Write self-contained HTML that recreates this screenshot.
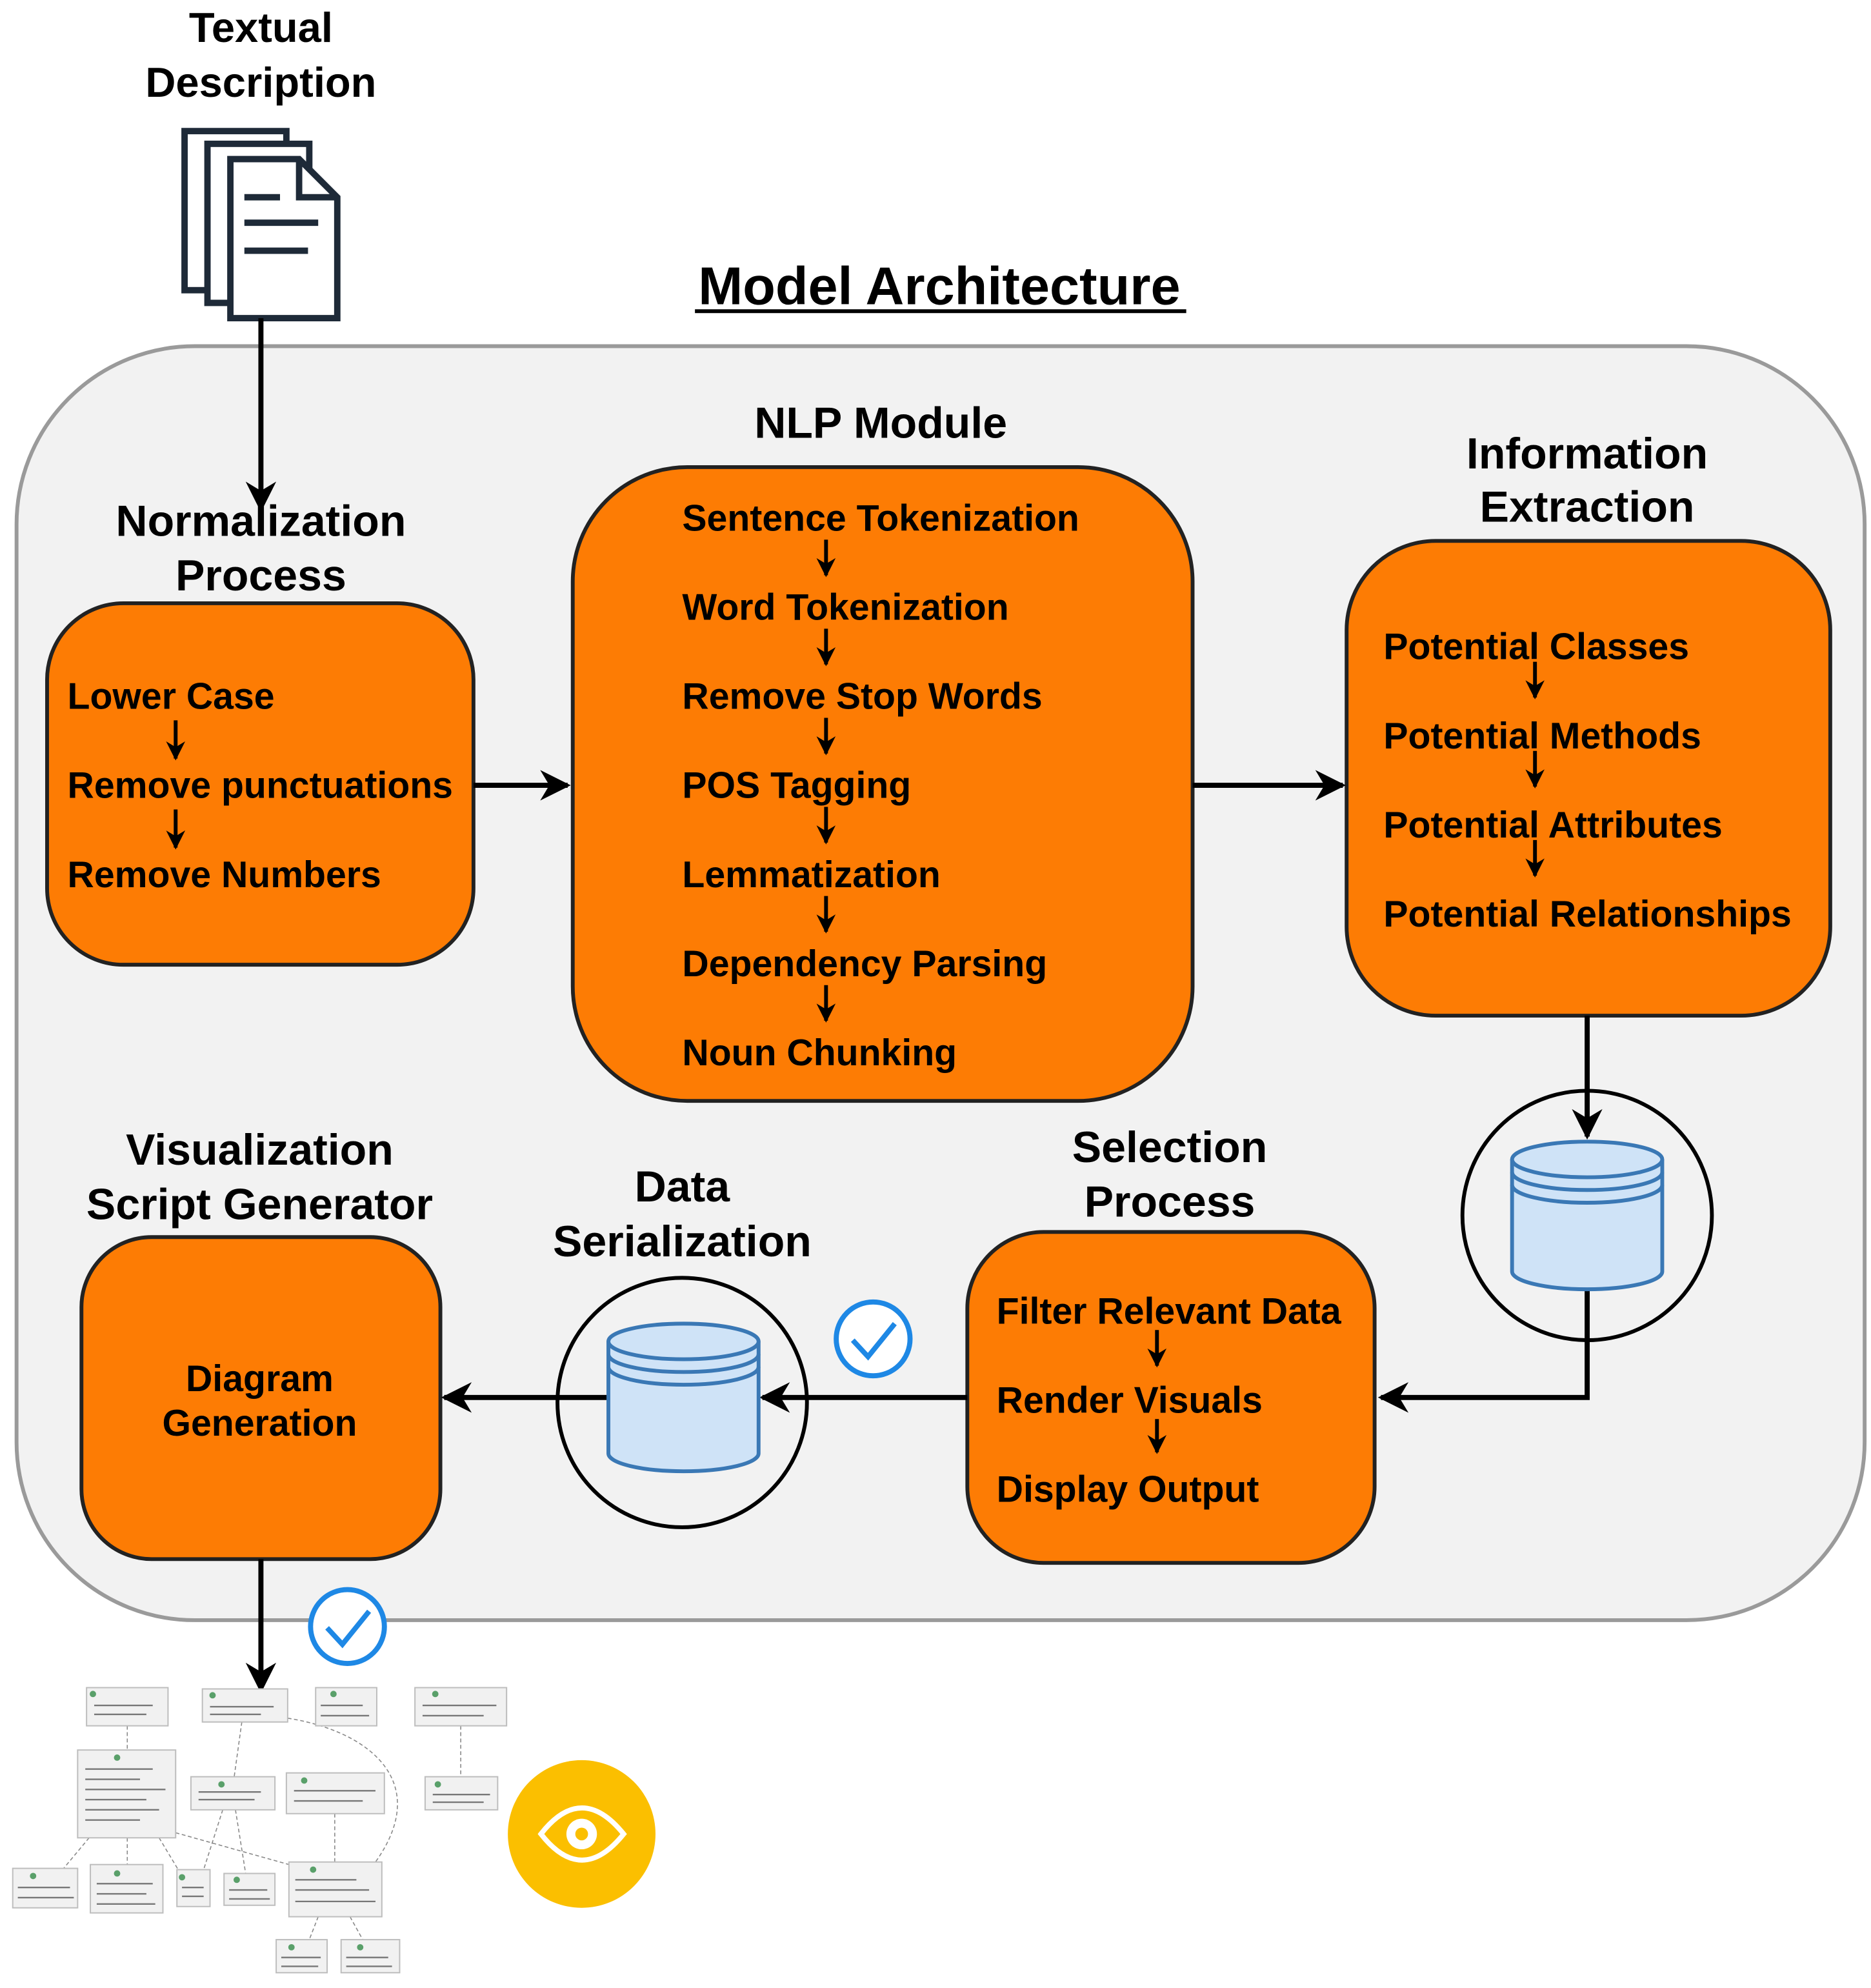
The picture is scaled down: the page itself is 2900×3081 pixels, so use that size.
<!DOCTYPE html>
<html><head><meta charset="utf-8"><style>html,body{margin:0;padding:0;background:#fff}svg{display:block}</style></head>
<body>
<svg width="2900" height="3081" viewBox="0 0 1470 1562" preserveAspectRatio="none" xmlns="http://www.w3.org/2000/svg" font-family="Liberation Sans, Arial, sans-serif" font-weight="bold">
<defs>
<marker id="a" viewBox="0 0 10 10" refX="9" refY="5" markerWidth="5" markerHeight="5" orient="auto"><path d="M0,0 L10,5 L0,10 L3,5 z" fill="#000"/></marker>
<marker id="s" viewBox="0 0 10 10" refX="9" refY="5" markerWidth="6" markerHeight="6" orient="auto"><path d="M0,0 L10,5 L0,10 L3,5 z" fill="#000"/></marker>
<g id="cyl">
<path d="M0,14 L0,102 A59,14 0 0 0 118,102 L118,14" fill="#cfe3f7" stroke="#3a78b5" stroke-width="3"/>
<ellipse cx="59" cy="14" rx="59" ry="14" fill="#cfe3f7" stroke="#3a78b5" stroke-width="3"/>
<path d="M0,24 A59,14 0 0 0 118,24 M0,34 A59,14 0 0 0 118,34" fill="none" stroke="#3a78b5" stroke-width="3"/>
</g>
</defs>
<text x="205" y="33" font-size="33" text-anchor="middle">Textual</text>
<text x="205" y="76" font-size="33" text-anchor="middle">Description</text>
<g fill="#fff" stroke="#1e2a38" stroke-width="5">
<rect x="145" y="103" width="80" height="125"/>
<rect x="163" y="113" width="80" height="125"/>
<path d="M181,125 L235,125 L265,155 L265,250 L181,250 Z"/>
<path d="M235,125 L235,155 L265,155" fill="none"/>
<path d="M192,155 L220,155 M192,175 L250,175 M192,197 L242,197" fill="none"/>
</g>
<text x="738" y="239" font-size="42" text-anchor="middle">Model Architecture</text>
<rect x="546" y="243" width="386" height="3" fill="#000"/>
<rect x="13" y="272" width="1452" height="1001" rx="140" fill="#f2f2f2" stroke="#9a9a9a" stroke-width="3"/>
<line x1="205" y1="250" x2="205" y2="400" stroke="#000" stroke-width="4" marker-end="url(#s)"/>
<g font-size="34.5" text-anchor="middle">
<text x="205" y="421">Normalization</text><text x="205" y="464">Process</text>
<text x="692" y="344">NLP Module</text>
<text x="1247" y="368">Information</text><text x="1247" y="410">Extraction</text>
<text x="919" y="913">Selection</text><text x="919" y="956">Process</text>
<text x="536" y="944">Data</text><text x="536" y="987">Serialization</text>
<text x="204" y="915">Visualization</text><text x="204" y="958">Script Generator</text>
</g>
<g fill="#fd7c04" stroke="#222" stroke-width="3">
<rect x="37" y="474" width="335" height="284" rx="60"/>
<rect x="450" y="367" width="487" height="498" rx="90"/>
<rect x="1058" y="425" width="380" height="373" rx="70"/>
<rect x="760" y="968" width="320" height="260" rx="60"/>
<rect x="64" y="972" width="282" height="253" rx="55"/>
</g>
<g font-size="29">
<text x="53" y="557">Lower Case</text><text x="53" y="627">Remove punctuations</text><text x="53" y="697">Remove Numbers</text>
<text x="536" y="417">Sentence Tokenization</text><text x="536" y="487">Word Tokenization</text><text x="536" y="557">Remove Stop Words</text><text x="536" y="627">POS Tagging</text><text x="536" y="697">Lemmatization</text><text x="536" y="767">Dependency Parsing</text><text x="536" y="837">Noun Chunking</text>
<text x="1087" y="518">Potential Classes</text><text x="1087" y="588">Potential Methods</text><text x="1087" y="658">Potential Attributes</text><text x="1087" y="728">Potential Relationships</text>
<text x="783" y="1040">Filter Relevant Data</text><text x="783" y="1110">Render Visuals</text><text x="783" y="1180">Display Output</text>
<text x="204" y="1093" text-anchor="middle">Diagram</text><text x="204" y="1128" text-anchor="middle">Generation</text>
</g>
<g stroke="#000" stroke-width="3" marker-end="url(#a)">
<line x1="138" y1="566" x2="138" y2="596"/><line x1="138" y1="636" x2="138" y2="666"/>
<line x1="649" y1="424" x2="649" y2="452"/><line x1="649" y1="494" x2="649" y2="522"/><line x1="649" y1="564" x2="649" y2="592"/><line x1="649" y1="634" x2="649" y2="662"/><line x1="649" y1="704" x2="649" y2="732"/><line x1="649" y1="774" x2="649" y2="802"/>
<line x1="1206" y1="520" x2="1206" y2="548"/><line x1="1206" y1="590" x2="1206" y2="618"/><line x1="1206" y1="660" x2="1206" y2="688"/>
<line x1="909" y1="1045" x2="909" y2="1073"/><line x1="909" y1="1115" x2="909" y2="1141"/>
</g>
<g stroke="#000" stroke-width="4" fill="none" marker-end="url(#s)">
<line x1="372" y1="617" x2="446" y2="617"/>
<line x1="937" y1="617" x2="1055" y2="617"/>
<line x1="1247" y1="798" x2="1247" y2="893"/>
<polyline points="1247,1013 1247,1098 1085,1098"/>
<line x1="760" y1="1098" x2="599" y2="1098"/>
<line x1="478" y1="1098" x2="349" y2="1098"/>
<line x1="205" y1="1225" x2="205" y2="1328"/>
</g>
<circle cx="1247" cy="955" r="98" fill="none" stroke="#000" stroke-width="3"/>
<use href="#cyl" x="1188" y="897"/>
<circle cx="536" cy="1102" r="98" fill="none" stroke="#000" stroke-width="3"/>
<use href="#cyl" x="478" y="1040"/>
<g fill="#fff" stroke="#1e88e5" stroke-width="4">
<circle cx="686" cy="1052" r="29"/><path d="M670,1053 L682,1066 L703,1040" fill="none"/>
<circle cx="273" cy="1278" r="29"/><path d="M257,1279 L269,1292 L290,1266" fill="none"/>
</g>
<g stroke="#888" stroke-width="0.8" fill="none" stroke-dasharray="3,2">
<line x1="100" y1="1356" x2="100" y2="1375"/><line x1="190" y1="1353" x2="184" y2="1396"/>
<path d="M226,1350 C290,1360 340,1400 295,1463"/><line x1="362" y1="1356" x2="362" y2="1396"/>
<line x1="263" y1="1425" x2="263" y2="1463"/><line x1="138" y1="1440" x2="227" y2="1465"/>
<line x1="70" y1="1444" x2="50" y2="1468"/><line x1="100" y1="1444" x2="100" y2="1465"/><line x1="125" y1="1444" x2="140" y2="1469"/>
<line x1="175" y1="1422" x2="160" y2="1469"/><line x1="185" y1="1422" x2="193" y2="1472"/>
<line x1="250" y1="1506" x2="243" y2="1524"/><line x1="275" y1="1506" x2="285" y2="1524"/>
</g>
<g fill="#f1f1f1" stroke="#bdbdbd" stroke-width="1">
<rect x="68" y="1326" width="64" height="30"/><rect x="159" y="1327" width="67" height="26"/><rect x="248" y="1326" width="48" height="30"/><rect x="326" y="1326" width="72" height="30"/>
<rect x="61" y="1375" width="77" height="69"/><rect x="150" y="1396" width="66" height="26"/><rect x="225" y="1393" width="77" height="32"/><rect x="334" y="1396" width="57" height="26"/>
<rect x="10" y="1468" width="51" height="31"/><rect x="71" y="1465" width="57" height="38"/><rect x="139" y="1469" width="26" height="29"/><rect x="176" y="1472" width="40" height="25"/><rect x="227" y="1463" width="73" height="43"/>
<rect x="217" y="1524" width="40" height="26"/><rect x="268" y="1524" width="46" height="26"/>
</g>
<g stroke="#777" stroke-width="1.2">
<path d="M74,1340 H120 M74,1347 H115 M165,1341 H215 M165,1347 H205 M252,1340 H285 M252,1348 H290 M332,1340 H390 M332,1348 H380 M67,1390 H120 M67,1398 H110 M67,1406 H130 M67,1414 H115 M67,1422 H125 M67,1430 H110 M156,1408 H205 M156,1414 H200 M231,1407 H295 M231,1415 H285 M340,1410 H385 M340,1416 H380 M14,1483 H55 M14,1491 H58 M76,1480 H120 M76,1488 H115 M76,1496 H122 M143,1483 H160 M143,1490 H160 M180,1485 H210 M180,1492 H212 M232,1477 H280 M232,1485 H290 M232,1494 H295 M221,1538 H252 M221,1545 H250 M272,1538 H305 M272,1545 H308"/>
</g>
<g fill="#5aa06a"><circle cx="73" cy="1331" r="2.5"/><circle cx="167" cy="1332" r="2.5"/><circle cx="262" cy="1331" r="2.5"/><circle cx="342" cy="1331" r="2.5"/><circle cx="92" cy="1381" r="2.5"/><circle cx="174" cy="1402" r="2.5"/><circle cx="239" cy="1399" r="2.5"/><circle cx="344" cy="1402" r="2.5"/><circle cx="26" cy="1474" r="2.5"/><circle cx="92" cy="1472" r="2.5"/><circle cx="143" cy="1475" r="2.5"/><circle cx="186" cy="1477" r="2.5"/><circle cx="246" cy="1469" r="2.5"/><circle cx="229" cy="1530" r="2.5"/><circle cx="283" cy="1530" r="2.5"/></g>
<circle cx="457" cy="1441" r="58" fill="#fbbf00"/>
<path d="M425,1441 Q457,1400 490,1441 Q457,1482 425,1441 Z" fill="none" stroke="#fff" stroke-width="4"/>
<circle cx="457" cy="1441" r="12" fill="#fff"/><circle cx="457" cy="1441" r="5" fill="#fbbf00"/>
</svg>
</body></html>
